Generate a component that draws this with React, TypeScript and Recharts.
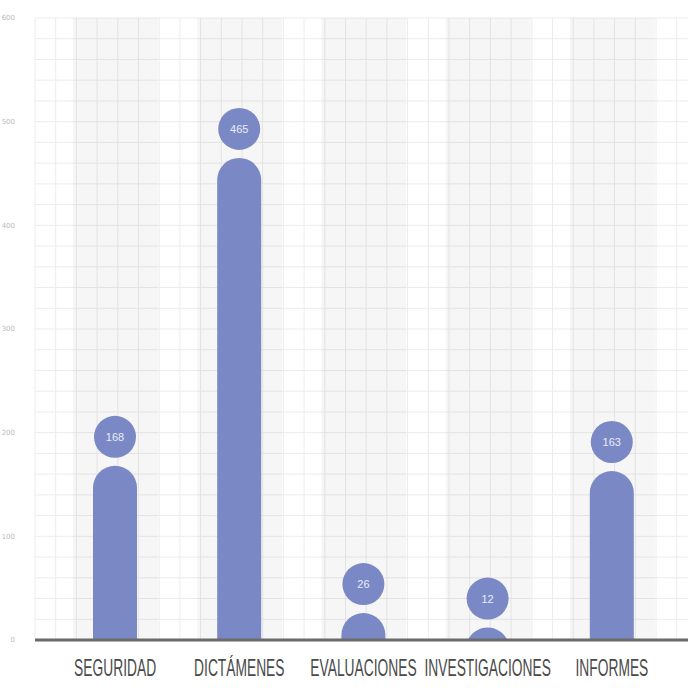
import { BarChart, Bar, XAxis, YAxis, CartesianGrid, LabelList } from 'recharts'

const categories = ['SEGURIDAD', 'DICTÁMENES', 'EVALUACIONES', 'INVESTIGACIONES', 'INFORMES']
const values = [168, 465, 26, 12, 163]
const yTicks = [0, 100, 200, 300, 400, 500, 600]
const gridStepValue = 20

const data = categories.map((name, i) => ({ name, total: values[i], band: 600 }))

const barColor = '#7a89c6'

// rounded top with radius = half width, cut at the baseline when short
const DomeBar = (props: any) => {
  const { x, y, width, height } = props
  if (!height || height <= 0) return null
  const r = width / 2
  const cx = x + r
  const yb = y + height
  if (height >= r) {
    const d = `M${x},${yb} L${x},${y + r} A${r},${r} 0 0 1 ${x + width},${y + r} L${x + width},${yb} Z`
    return <path d={d} fill={barColor} />
  }
  const hc = Math.sqrt(r * r - (r - height) * (r - height))
  const d = `M${cx - hc},${yb} A${r},${r} 0 0 1 ${cx + hc},${yb} Z`
  return <path d={d} fill={barColor} />
}

const BubbleLabel = (props: any) => {
  const { x, y, width, value } = props
  const cx = x + width / 2
  const cy = y - 29
  return (
    <g>
      <circle cx={cx} cy={cy} r={21} fill={barColor} />
      <text x={cx} y={cy + 4} textAnchor="middle" fill="#e8ecf8" fontSize={11} fontFamily="'Liberation Sans', sans-serif">
        {value}
      </text>
    </g>
  )
}

// condensed look: squeeze the label horizontally
const CategoryTick = (props: any) => {
  const { x, y, payload } = props
  return (
    <g transform={`translate(${x},${y + 28}) scale(0.6,1)`}>
      <text x={0} y={0} textAnchor="middle" fill="#4a4a4a" fontSize={23} fontFamily="'Liberation Sans', sans-serif">
        {payload.value}
      </text>
    </g>
  )
}

export default function App() {
  return (
    <div style={{ position: 'absolute', left: 0, top: 0, width: 688, height: 688, background: '#fff' }}>
      <BarChart
        width={688}
        height={688}
        data={data}
        margin={{ top: 18, right: 0, left: 0, bottom: 0 }}
        barCategoryGap={0}
      >
        <CartesianGrid
          stroke="#ececec"
          strokeWidth={1}
          horizontalCoordinatesGenerator={({ offset }: any) => {
            const out: number[] = []
            const n = 600 / gridStepValue
            for (let i = 0; i <= n; i++) out.push(offset.top + (offset.height * i) / n)
            return out
          }}
          verticalCoordinatesGenerator={({ offset }: any) => {
            const out: number[] = []
            for (let px = offset.left; px <= offset.left + offset.width; px += 20.7) out.push(px)
            return out
          }}
        />
        <XAxis xAxisId="bg" dataKey="name" hide padding={{ left: 18, right: 14 }} />
        <XAxis
          dataKey="name"
          padding={{ left: 18, right: 14 }}
          height={48}
          tickLine={false}
          axisLine={{ stroke: '#6b6b6b', strokeWidth: 3 }}
          tick={<CategoryTick />}
          interval={0}
        />
        <YAxis
          domain={[0, 600]}
          ticks={yTicks}
          width={35}
          axisLine={false}
          tickLine={false}
          tick={{ fontSize: 7, fill: '#bbbbbb', fontFamily: 'DejaVu Sans' }}
          dx={-12}
        />
        <Bar xAxisId="bg" dataKey="band" barSize={85} fill="#000" fillOpacity={0.035} isAnimationActive={false} />
        <Bar dataKey="total" barSize={44} shape={<DomeBar />} isAnimationActive={false}>
          <LabelList dataKey="total" content={<BubbleLabel />} />
        </Bar>
      </BarChart>
    </div>
  )
}
